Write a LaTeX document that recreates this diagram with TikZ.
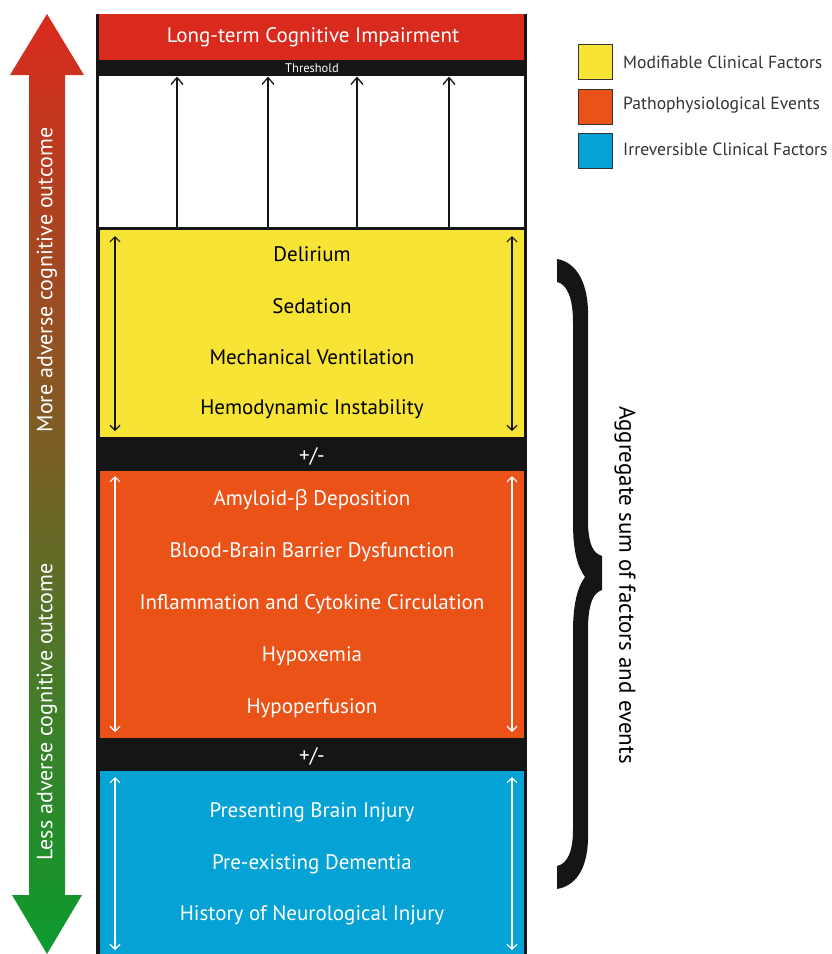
\documentclass[tikz,border=0pt]{standalone}
\usepackage{fontspec}
\setmainfont{PT Sans}
\newfontfamily\grk{Open Sans}
\usetikzlibrary{arrows.meta}
\definecolor{cred}{HTML}{DA2A1E}
\definecolor{cyel}{HTML}{F7E434}
\definecolor{corg}{HTML}{EA5218}
\definecolor{cblu}{HTML}{05A2D5}
\definecolor{cblk}{HTML}{141515}
\definecolor{agreen}{HTML}{0B9B2E}
\tikzset{
  lbl/.style={font=\fontsize{21}{24}\selectfont, inner sep=0pt, anchor=center},
  wlbl/.style={lbl, text=white},
  blbl/.style={lbl, text=black},
  legtxt/.style={font=\fontsize{17.6}{20}\selectfont, text=black!80, anchor=west, inner sep=0pt},
  legbox/.style={draw=black!80, line width=1pt, minimum width=34pt, minimum height=35pt, inner sep=0pt},
  upar/.style={line width=1.3pt, -{Straight Barb[length=7pt,width=12pt]}},
  dbl/.style={line width=1.2pt, {Straight Barb[length=5pt,width=10pt]}-{Straight Barb[length=5pt,width=10pt]}},
}
\begin{document}
\begin{tikzpicture}[x=1pt,y=-1pt]
\useasboundingbox (0,0) rectangle (831,954);
% gradient arrow
\shade[top color=cred, bottom color=agreen]
  (47,14) -- (84,75) -- (65,75) -- (65,895) -- (82,895) -- (47,954) -- (12,895) -- (29,895) -- (29,75) -- (10,75) -- cycle;
\node[wlbl, rotate=90, font=\fontsize{22}{24}\selectfont] (more) at (47,280) {More adverse cognitive outcome};
\node[wlbl, rotate=90, font=\fontsize{22}{24}\selectfont] (less) at (47,712) {Less adverse cognitive outcome};
% column
\fill[cblk] (96,14) rectangle (527,954);
\fill[cred] (99,14) rectangle (524,60);
\fill[white] (99,76) rectangle (524,227);
\fill[cyel] (100,230) rectangle (524,437);
\fill[corg] (100,471) rectangle (524,738);
\fill[cblu] (100,771) rectangle (524,954);
\node[wlbl] (lt) at (313,37) {Long-term Cognitive Impairment};
\node[wlbl, font=\fontsize{12.5}{13}\selectfont] (thr) at (312,68) {Threshold};
% threshold arrows
\foreach \i/\x in {1/177,2/268,3/357,4/449}{
  \coordinate (ts\i) at (\x,228);
  \coordinate (te\i) at (\x,76.5);
  \draw[upar, cblk] (ts\i) -- (te\i);
}
% yellow
\node[blbl] (y1) at (312,254) {Delirium};
\node[blbl] (y2) at (312,306) {Sedation};
\node[blbl] (y3) at (312,357) {Mechanical Ventilation};
\node[blbl] (y4) at (312,409) {Hemodynamic Instability};
\coordinate (yl1) at (115,236); \coordinate (yl2) at (115,431);
\coordinate (yr1) at (512,236); \coordinate (yr2) at (512,431);
\draw[dbl, cblk] (yl1) -- (yl2);
\draw[dbl, cblk] (yr1) -- (yr2);
\node[wlbl] (pm1) at (312,456) {+/-};
% orange
\node[wlbl] (o1) at (312,500) {Amyloid-{\grk β} Deposition};
\node[wlbl] (o2) at (312,552) {Blood-Brain Barrier Dysfunction};
\node[wlbl] (o3) at (312,604) {Inflammation and Cytokine Circulation};
\node[wlbl] (o4) at (312,656) {Hypoxemia};
\node[wlbl] (o5) at (312,708) {Hypoperfusion};
\coordinate (ol1) at (115,476); \coordinate (ol2) at (115,732);
\coordinate (or1) at (512,476); \coordinate (or2) at (512,732);
\draw[dbl, white] (ol1) -- (ol2);
\draw[dbl, white] (or1) -- (or2);
\node[wlbl] (pm2) at (312,756) {+/-};
% blue
\node[wlbl] (b1) at (312,812) {Presenting Brain Injury};
\node[wlbl] (b2) at (312,864) {Pre-existing Dementia};
\node[wlbl] (b3) at (312,915) {History of Neurological Injury};
\coordinate (bl1) at (115,777); \coordinate (bl2) at (115,950);
\coordinate (br1) at (512,777); \coordinate (br2) at (512,950);
\draw[dbl, white] (bl1) -- (bl2);
\draw[dbl, white] (br1) -- (br2);
% legend
\node[legbox, fill=cyel, anchor=north west] (k1) at (578,44) {};
\node[legbox, fill=corg, anchor=north west] (k2) at (578,89) {};
\node[legbox, fill=cblu, anchor=north west] (k3) at (578,133) {};
\node[legtxt] (t1) at (623,62) {Modifiable Clinical Factors};
\node[legtxt] (t2) at (623,105) {Pathophysiological Events};
\node[legtxt] (t3) at (623,149) {Irreversible Clinical Factors};
% brace
\fill[cblk] (557,259) .. controls (575,262) and (587,280) .. (588,310) -- (588,525)
  .. controls (589,545) and (593,553) .. (602,556) -- (602,590)
  .. controls (593,593) and (589,603) .. (588,625) -- (588,840)
  .. controls (587,870) and (575,886) .. (557,889) -- (557,866)
  .. controls (567,864) and (573,852) .. (573,830) -- (573,632)
  .. controls (573,605) and (577,588) .. (585,577)
  .. controls (577,566) and (573,550) .. (573,522) -- (573,322)
  .. controls (573,298) and (567,284) .. (557,282) -- cycle;
\node[blbl, rotate=-90, font=\fontsize{23}{25}\selectfont] (agg) at (625,585) {Aggregate sum of factors and events};
\end{tikzpicture}
\end{document}
